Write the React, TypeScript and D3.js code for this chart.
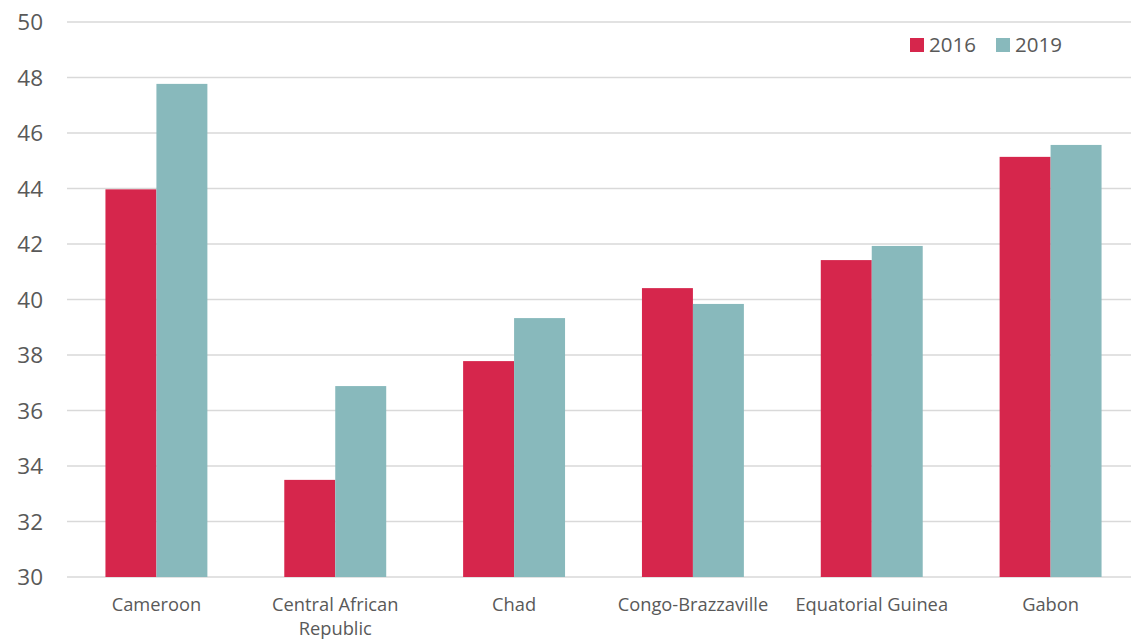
import React from "react";
import * as d3 from "d3";

const categories = [["Cameroon"], ["Central African", "Republic"], ["Chad"], ["Congo-Brazzaville"], ["Equatorial Guinea"], ["Gabon"]];
const categoryKeys = ["Cameroon", "Central African Republic", "Chad", "Congo-Brazzaville", "Equatorial Guinea", "Gabon"];
const series2016 = [43.97, 33.5, 37.78, 40.41, 41.42, 45.14];
const series2019 = [47.77, 36.88, 39.33, 39.84, 41.93, 45.57];
const seriesNames = ["2016", "2019"];
const seriesColors = ["#D6264C", "#88B9BC"];
const yTicks = [30, 32, 34, 36, 38, 40, 42, 44, 46, 48, 50];

const W = 1131;
const H = 639;
const FONT = "'Open Sans', 'Noto Sans', sans-serif";

export default function App() {
  const x = d3.scaleBand<string>().domain(categoryKeys).range([67, 1140]).paddingInner(0.43).paddingOuter(0.215);
  const xs = d3.scaleBand<string>().domain(seriesNames).range([0, x.bandwidth()]);
  const y = d3.scaleLinear().domain([30, 50]).range([577, 22]);
  const data = [series2016, series2019];

  return (
    <svg width={W} height={H} style={{ position: "absolute", left: 0, top: 0, background: "#fff" }}>
      {yTicks.map((t) => (
        <g key={t}>
          <line x1={67} x2={W} y1={y(t)} y2={y(t)} stroke="#D9D9D9" strokeWidth={1.5} />
          <text x={43} y={y(t) + 8} textAnchor="end" fontFamily={FONT} fontSize={22.5} fill="#595959">
            {t}
          </text>
        </g>
      ))}
      {categoryKeys.map((c, i) => (
        <g key={c}>
          {data.map((s, si) => (
            <rect
              key={si}
              x={(x(c) as number) + (xs(seriesNames[si]) as number)}
              width={xs.bandwidth()}
              y={y(s[i])}
              height={y(30) - y(s[i])}
              fill={seriesColors[si]}
            />
          ))}
          {categories[i].map((line, li) => (
            <text
              key={li}
              x={(x(c) as number) + x.bandwidth() / 2}
              y={611 + li * 23.5}
              textAnchor="middle"
              fontFamily={FONT}
              fontSize={18.3}
              fill="#595959"
            >
              {line}
            </text>
          ))}
        </g>
      ))}
      {seriesNames.map((n, i) => (
        <g key={n} transform={`translate(${910 + i * 86},0)`}>
          <rect x={0} y={38} width={14} height={14} fill={seriesColors[i]} />
          <text x={19} y={52} fontFamily={FONT} fontSize={20.5} fill="#595959">
            {n}
          </text>
        </g>
      ))}
    </svg>
  );
}
